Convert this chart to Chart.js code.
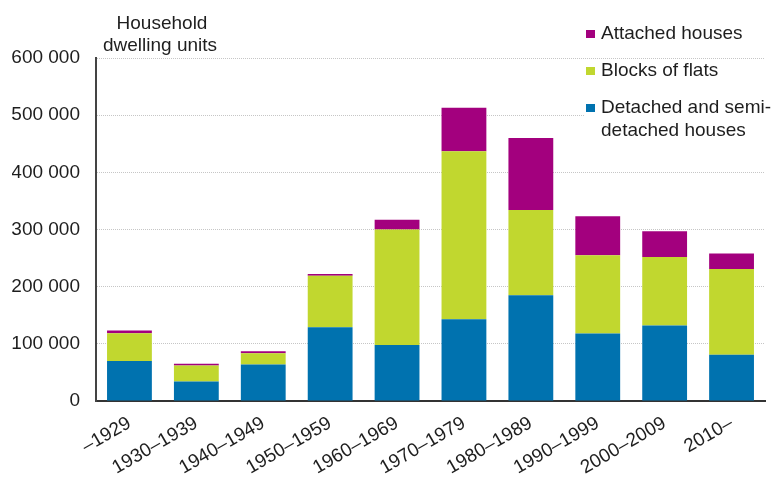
<!DOCTYPE html>
<html>
<head>
<meta charset="utf-8">
<script src="https://cdn.jsdelivr.net/npm/chart.js@4/dist/chart.umd.min.js"></script>
<style>
  html, body { margin: 0; padding: 0; background: #fff; }
  #wrap { position: relative; width: 773px; height: 478px; }
</style>
</head>
<body>
<div id="wrap"><canvas id="c" width="773" height="478"></canvas></div>
<script>
const categories = ['–1929', '1930–1939', '1940–1949', '1950–1959', '1960–1969', '1970–1979', '1980–1989', '1990–1999', '2000–2009', '2010–'];
const detached = [70000, 34000, 64000, 129000, 98000, 143000, 185000, 118000, 132000, 81000];
const blocks   = [48500, 28000, 19500, 90000, 202000, 294000, 149000, 137000, 120000, 150000];
const attached = [5000, 3000, 3500, 3000, 17000, 76000, 126000, 68000, 45000, 27000];
const seriesNames = ['Detached and semi-detached houses', 'Blocks of flats', 'Attached houses'];
const axisTitle = ['Household', 'dwelling units'];

const COLORS = ['#0072AF', '#C1D72F', '#A3007E'];
const FONT = 'Arial, "Liberation Sans", sans-serif';
const TXT = '#1e1e1e';

function fmt(v) { return String(v).replace(/\B(?=(\d{3})+(?!\d))/g, ' '); }

const overlay = {
  id: 'overlay',
  afterDraw(chart) {
    const ctx = chart.ctx;
    ctx.save();
    ctx.fillStyle = TXT;
    ctx.font = '19px ' + FONT;
    ctx.textAlign = 'center';
    ctx.textBaseline = 'middle';
    ctx.fillText(axisTitle[0], 162, 24);
    ctx.fillText(axisTitle[1], 160, 46);
    ctx.fillStyle = '#fff';
    ctx.fillRect(585, 60, 181, 84);
    const items = [
      { i: 2, lines: ['Attached houses'], y: 34 },
      { i: 1, lines: ['Blocks of flats'], y: 71 },
      { i: 0, lines: ['Detached and semi-', 'detached houses'], y: 108 }
    ];
    ctx.textAlign = 'left';
    items.forEach(it => {
      const ds = chart.data.datasets[it.i];
      ctx.fillStyle = ds.backgroundColor;
      ctx.fillRect(586, it.y - 4, 9, 8);
      ctx.fillStyle = TXT;
      it.lines.forEach((ln, k) => ctx.fillText(ln, 601, it.y + k * 23));
    });
    ctx.restore();
  }
};

new Chart(document.getElementById('c'), {
  type: 'bar',
  data: {
    labels: categories,
    datasets: [
      { label: seriesNames[0], data: detached, backgroundColor: COLORS[0] },
      { label: seriesNames[1], data: blocks, backgroundColor: COLORS[1] },
      { label: seriesNames[2], data: attached, backgroundColor: COLORS[2] }
    ]
  },
  options: {
    responsive: false,
    animation: false,
    devicePixelRatio: 1,
    layout: { padding: { left: 12, right: 8, top: 58, bottom: 0 } },
    datasets: { bar: { categoryPercentage: 1, barPercentage: 0.67, borderWidth: 0 } },
    plugins: { legend: { display: false }, tooltip: { enabled: false } },
    scales: {
      x: {
        stacked: true,
        grid: { display: false, drawTicks: false },
        border: { display: true, color: '#333', width: 2 },
        ticks: { color: TXT, font: { family: FONT, size: 19 }, maxRotation: 30, minRotation: 30, padding: 11, autoSkip: false },
        afterFit: s => { s.paddingLeft = 0; s.paddingRight = 0; s.height = 77; }
      },
      y: {
        stacked: true,
        min: 0, max: 600000,
        grid: { color: '#c6c6c6', lineWidth: 1, drawTicks: false },
        border: { display: true, color: '#444', width: 2, dash: [1, 1] },
        ticks: { stepSize: 100000, color: TXT, font: { family: FONT, size: 19 }, padding: 16, callback: v => fmt(v) },
        afterFit: s => { s.paddingTop = 0; s.paddingBottom = 0; s.width = 84; }
      }
    }
  },
  plugins: [overlay]
});
</script>
</body>
</html>
